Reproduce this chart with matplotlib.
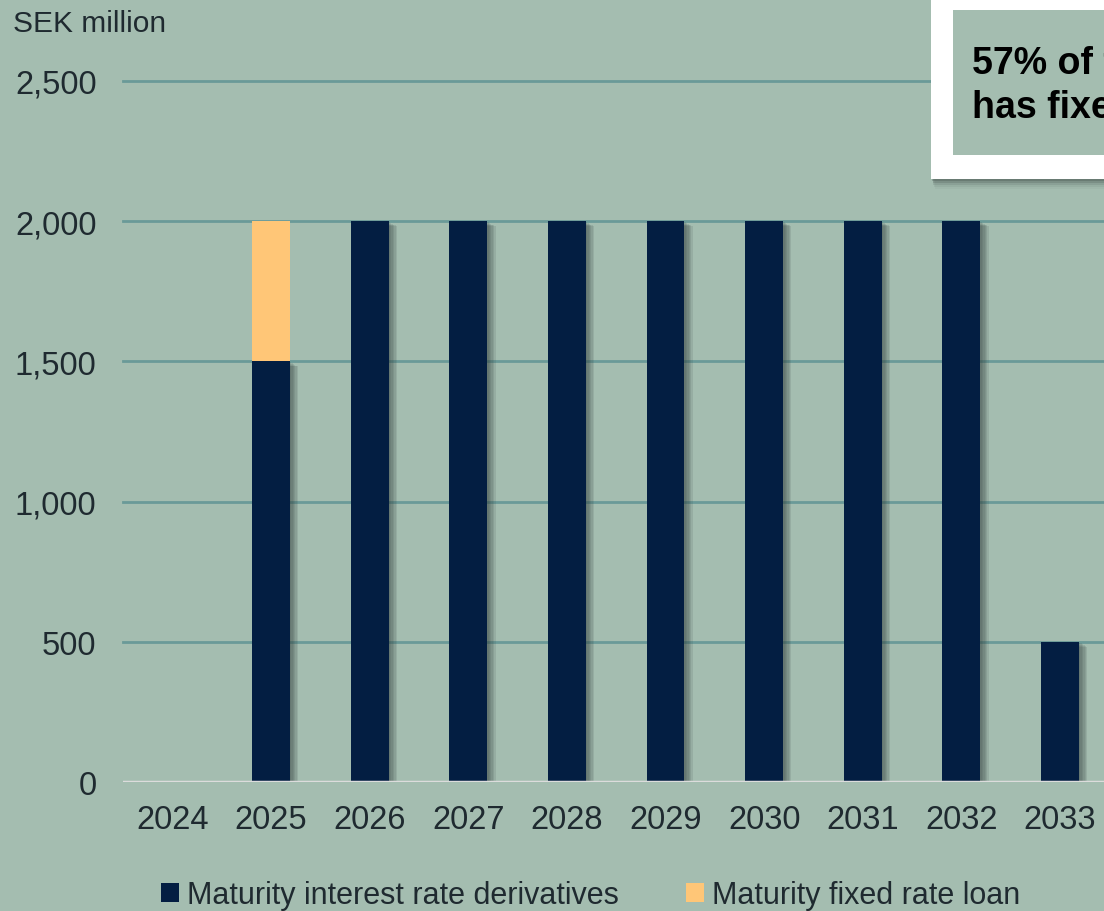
import numpy as np
import matplotlib
matplotlib.use("Agg")
import matplotlib.pyplot as plt
from matplotlib.patches import Rectangle
from matplotlib import patheffects as pe
from matplotlib.ticker import FuncFormatter

# Maturity profile, SEK million
years = ["2024", "2025", "2026", "2027", "2028", "2029", "2030", "2031", "2032", "2033"]
derivatives = [0, 1500, 2000, 2000, 2000, 2000, 2000, 2000, 2000, 500]
fixed_loan = [0, 500, 0, 0, 0, 0, 0, 0, 0, 0]

yticks = [0, 500, 1000, 1500, 2000, 2500]
callout = "57% of the loan portfolio\nhas fixed interest rate"

BG = "#a4bdb0"
NAVY = "#031e42"
ORANGE = "#ffc677"
GRID = "#6a9a98"
TXT = "#1f2a30"

plt.rcParams["font.family"] = ["Liberation Sans", "DejaVu Sans"]

fig = plt.figure(figsize=(11.04, 9.12), dpi=100, facecolor=BG)
# axes runs past the right edge of the figure on purpose
ax = fig.add_axes([123 / 1104, 129 / 912, 1085 / 1104, 701 / 912], facecolor=BG)

# soft drop shadow built from a few stacked offsets
shadow = [pe.SimplePatchShadow(offset=(k, -k * 0.6), shadow_rgbFace="#33403f", alpha=0.12)
          for k in (1, 2, 3, 4, 5, 6)] + [pe.Normal()]

x = np.arange(len(years))
w = 0.385
b1 = ax.bar(x, derivatives, w, color=NAVY, zorder=3, label="Maturity interest rate derivatives")
b2 = ax.bar(x, fixed_loan, w, bottom=derivatives, color=ORANGE, zorder=4,
            label="Maturity fixed rate loan")
for r in b1:
    if r.get_height() > 0:
        r.set_path_effects(shadow)

ax.set_xlim(-0.5, 10.5)
ax.set_ylim(0, 2500)
ax.set_yticks(yticks)
ax.yaxis.set_major_formatter(FuncFormatter(lambda v, p: f"{int(v):,}"))
ax.set_xticks(x)
ax.set_xticklabels(years)
for s in ax.spines.values():
    s.set_visible(False)
ax.tick_params(length=0, labelsize=23.5, colors=TXT)
ax.tick_params(axis="y", pad=19)
ax.tick_params(axis="x", pad=16)
for t in yticks[1:]:
    ax.axhline(t, color=GRID, lw=2, zorder=1, clip_on=False)
ax.axhline(0, color="#dcdcdc", lw=2.5, zorder=5)

fig.text(13 / 1104, 1 - 24 / 912, "SEK million", fontsize=21.5, color=TXT, va="center")

leg = fig.legend(handles=[b1, b2], loc="center", bbox_to_anchor=(0.535, 1 - 896 / 912),
                 ncol=2, frameon=False, fontsize=22, handlelength=0.6, handleheight=0.6,
                 handletextpad=0.25, columnspacing=2.2, labelcolor=TXT)

# callout box in the upper right corner, with a soft shadow beneath
for k, a in zip((2, 4, 6, 8, 10), (0.22, 0.16, 0.11, 0.07, 0.04)):
    fig.add_artist(Rectangle((931 / 1104 + k * 0.4 / 1104, 1 - (180 + k) / 912), 0.3, 0.3,
                             transform=fig.transFigure, facecolor="#2c3635", alpha=a,
                             edgecolor="none", zorder=5))
fig.add_artist(Rectangle((931 / 1104, 1 - 180 / 912), 0.3, 0.3, transform=fig.transFigure,
                         facecolor="white", edgecolor="none", zorder=6))
fig.add_artist(Rectangle((953 / 1104, 1 - 156 / 912), 0.3, 145 / 912, transform=fig.transFigure,
                         facecolor=BG, edgecolor="none", zorder=7))
fig.text(972 / 1104, 1 - 86 / 912, callout, fontsize=27, fontweight="bold", color="black",
         va="center", ha="left", linespacing=1.3, zorder=8)

fig.savefig("out.png", dpi=100, facecolor=BG)
